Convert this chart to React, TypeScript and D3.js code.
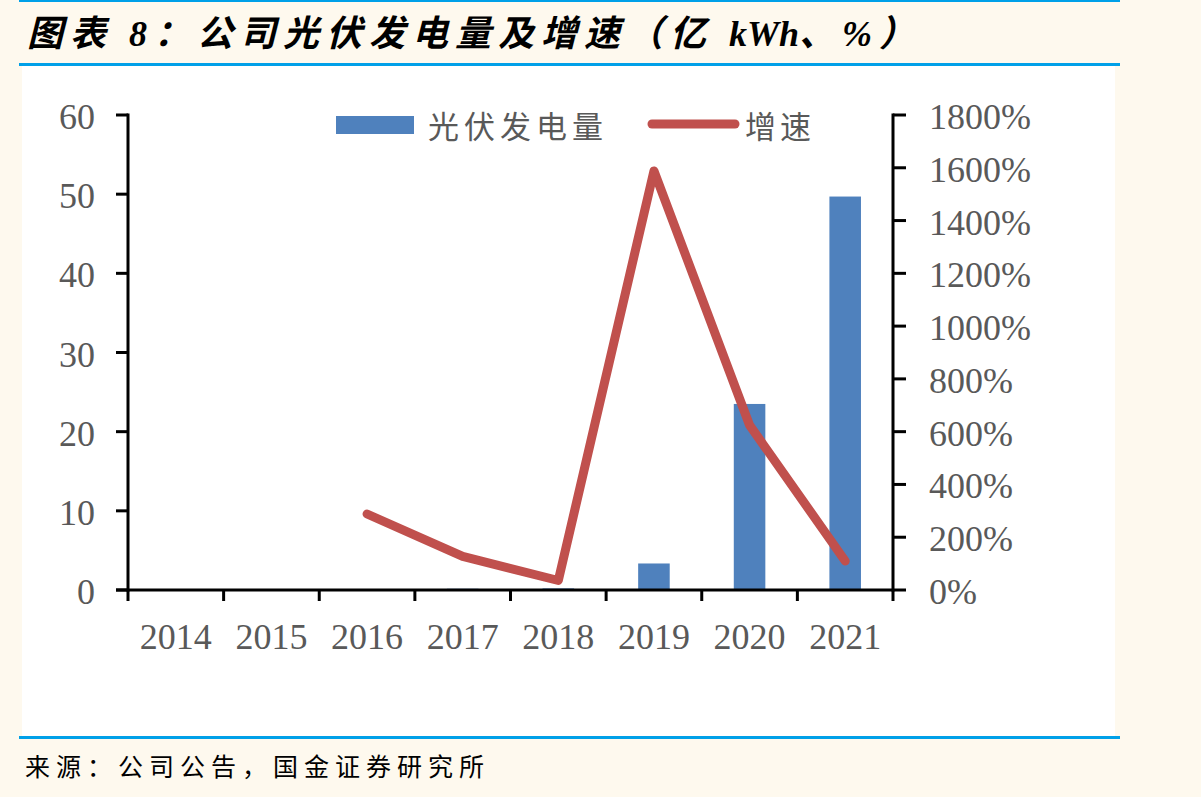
import React from 'react';
import * as d3 from 'd3';

const years = ['2014', '2015', '2016', '2017', '2018', '2019', '2020', '2021'];
// 光伏发电量 (亿kWh)
const output = [0, 0.02, 0.07, 0.16, 0.2, 3.35, 23.5, 49.7];
// 增速 (%), no value for 2014/2015
const growth: (number | null)[] = [null, null, 288, 127, 36, 1588, 625, 110];
const leftTicks = [0, 10, 20, 30, 40, 50, 60];
const rightTicks = [0, 200, 400, 600, 800, 1000, 1200, 1400, 1600, 1800];

const W = 1201;
const H = 797;
const plot = { left: 128, right: 893, top: 115, bottom: 590 };
const numFont = '"Liberation Serif", "Times New Roman", serif';
const cjkFont = '"Noto Sans CJK SC", sans-serif';
const grey = '#595959';
const blue = '#4F81BD';
const red = '#C0504D';
const rule = '#00A0E8';

const App: React.FC = () => {
  const x = d3.scaleBand<string>().domain(years).range([plot.left, plot.right]).padding(0);
  const yL = d3.scaleLinear().domain([0, 60]).range([plot.bottom, plot.top]);
  const yR = d3.scaleLinear().domain([0, 1800]).range([plot.bottom, plot.top]);
  const barW = x.bandwidth() * 0.33;
  const cx = (d: string) => (x(d) ?? 0) + x.bandwidth() / 2;

  const line = d3
    .line<{ year: string; v: number | null }>()
    .defined(d => d.v !== null)
    .x(d => cx(d.year))
    .y(d => yR(d.v as number));
  const lineData = years.map((year, i) => ({ year, v: growth[i] }));

  const boundaries = years.map(d => x(d) ?? 0).concat([plot.right]);

  return (
    <svg width={W} height={H} style={{ position: 'absolute', left: 0, top: 0, display: 'block' }}>
      <rect x={0} y={0} width={W} height={H} fill="#FEF9EE" />
      <rect x={19} y={0} width={1101} height={2} fill={rule} />
      <text
        x={27}
        y={46}
        fontFamily={`"Liberation Serif", ${cjkFont}`}
        fontSize={36}
        fontWeight="bold"
        fontStyle="italic"
        fill="#000"
      >
        <tspan letterSpacing={7}>图表 8：公司光伏发电量及增速（亿 </tspan>
        <tspan letterSpacing={0}>kWh</tspan>
        <tspan letterSpacing={7}>、%）</tspan>
      </text>
      <rect x={19} y={63} width={1101} height={3} fill={rule} />
      <rect x={22} y={66} width={1093} height={670} fill="#fff" />
      <rect x={19} y={736} width={1101} height={3} fill={rule} />
      <text x={25} y={776} fontFamily={cjkFont} fontSize={25} letterSpacing={6} fill="#000">
        来源：公司公告，国金证券研究所
      </text>

      {/* bars */}
      {years.map((d, i) => (
        <rect
          key={d}
          x={cx(d) - barW / 2}
          y={yL(output[i])}
          width={barW}
          height={plot.bottom - yL(output[i])}
          fill={blue}
        />
      ))}

      {/* growth line */}
      <path
        d={line(lineData) ?? ''}
        fill="none"
        stroke={red}
        strokeWidth={9}
        strokeLinejoin="round"
        strokeLinecap="round"
      />

      {/* axes */}
      <g stroke="#000" strokeWidth={3}>
        <line x1={plot.left} x2={plot.left} y1={plot.top - 1.5} y2={plot.bottom + 1.5} />
        <line x1={plot.right} x2={plot.right} y1={plot.top - 1.5} y2={plot.bottom + 1.5} />
        <line x1={plot.left - 12} x2={plot.right} y1={plot.bottom} y2={plot.bottom} />
        {leftTicks.map(t => (
          <line key={'l' + t} x1={plot.left - 12} x2={plot.left} y1={yL(t)} y2={yL(t)} />
        ))}
        {rightTicks.map(t => (
          <line key={'r' + t} x1={plot.right} x2={plot.right + 13} y1={yR(t)} y2={yR(t)} />
        ))}
        {boundaries.map((b, i) => (
          <line key={'x' + i} x1={b} x2={b} y1={plot.bottom} y2={plot.bottom + 11} />
        ))}
      </g>

      <g fontFamily={numFont} fontSize={36} fill={grey}>
        {leftTicks.map(t => (
          <text key={t} x={95} y={yL(t) + 14} textAnchor="end">
            {t}
          </text>
        ))}
        {rightTicks.map(t => (
          <text key={t} x={929} y={yR(t) + 14} textAnchor="start">
            {t}%
          </text>
        ))}
        {years.map(d => (
          <text key={d} x={cx(d)} y={649} textAnchor="middle">
            {d}
          </text>
        ))}
      </g>

      {/* legend */}
      <rect x={336} y={116} width={78} height={18} fill={blue} />
      <text x={428} y={138} fontFamily={cjkFont} fontSize={31} letterSpacing={5} fill={grey}>
        光伏发电量
      </text>
      <line x1={652} x2={735} y1={124} y2={124} stroke={red} strokeWidth={9} strokeLinecap="round" />
      <text x={745} y={138} fontFamily={cjkFont} fontSize={31} letterSpacing={4} fill={grey}>
        增速
      </text>
    </svg>
  );
};

export default App;
